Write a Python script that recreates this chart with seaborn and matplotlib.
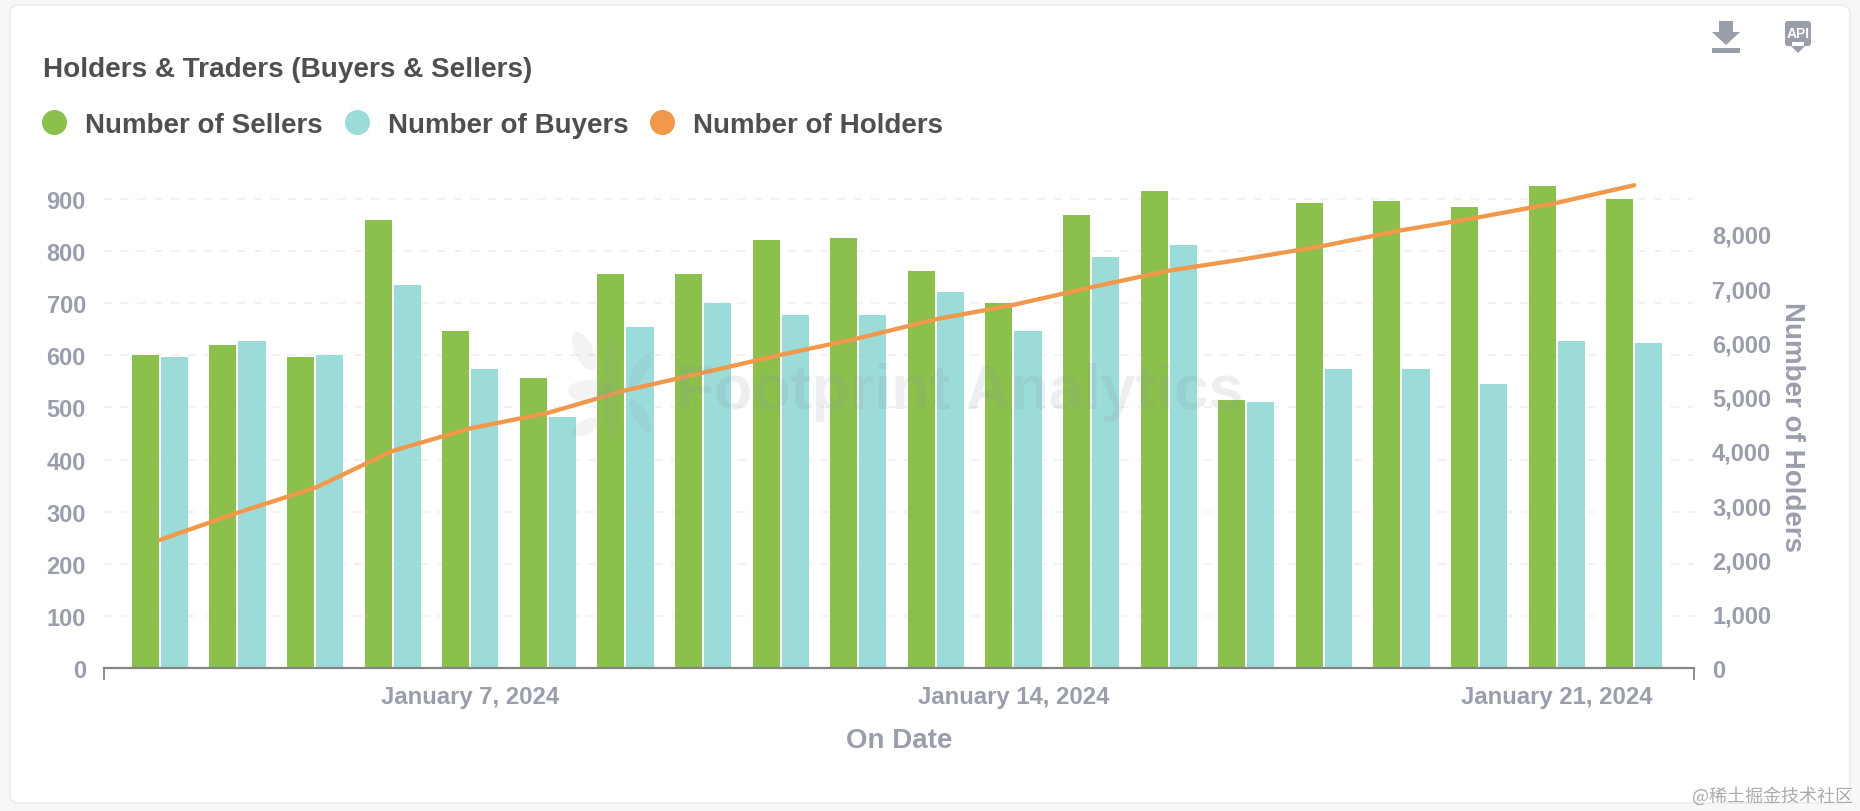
import numpy as np
import pandas as pd
import matplotlib
matplotlib.use('Agg')
import matplotlib.pyplot as plt
from matplotlib.lines import Line2D
from matplotlib.patches import FancyBboxPatch, Polygon, Rectangle, Ellipse
import seaborn as sns

dates = ['Jan 3', 'Jan 4', 'Jan 5', 'Jan 6', 'Jan 7', 'Jan 8', 'Jan 9', 'Jan 10', 'Jan 11', 'Jan 12',
         'Jan 13', 'Jan 14', 'Jan 15', 'Jan 16', 'Jan 17', 'Jan 18', 'Jan 19', 'Jan 20', 'Jan 21', 'Jan 22']
sellers = [600, 620, 596, 860, 647, 557, 757, 757, 822, 826, 761, 700, 869, 915, 515, 892, 896, 885, 925, 900]
buyers = [596, 627, 600, 735, 573, 481, 654, 700, 677, 677, 722, 646, 788, 811, 511, 573, 573, 546, 627, 623]
holders = [2360, 2860, 3320, 4000, 4415, 4700, 5115, 5440, 5770, 6075,
           6425, 6690, 7015, 7320, 7540, 7780, 8065, 8305, 8570, 8895]
tick_labels = {'Jan 7': 'January 7, 2024', 'Jan 14': 'January 14, 2024', 'Jan 21': 'January 21, 2024'}

GREEN = '#8bc04d'
CYAN = '#9bdcd9'
ORANGE = '#f1984b'
GREY = '#9a9eab'
DARK = '#4f4f51'
W, H = 1860, 812

sns.set_theme(style='white')
plt.rcParams['font.family'] = ['Liberation Sans', 'Noto Sans CJK SC']
plt.rcParams['font.weight'] = 'bold'

fig = plt.figure(figsize=(W / 100, H / 100), dpi=100, facecolor='#f6f7f9')

# page overlay in pixels: card, icons, watermark logo
bg = fig.add_axes([0, 0, 1, 1], zorder=0)
bg.set_xlim(0, W)
bg.set_ylim(H, 0)
bg.axis('off')
bg.add_patch(FancyBboxPatch((10, 6), 1840, 798, boxstyle='round,pad=0,rounding_size=9',
                            fc='white', ec='#eceef2', lw=1.5))
# download icon
bg.add_patch(Polygon([(1719, 22), (1733, 22), (1733, 33), (1740, 33), (1726, 46), (1712, 33), (1719, 33)],
                     fc=GREY, ec='none'))
bg.add_patch(Rectangle((1712, 49), 28, 4.5, fc=GREY, ec='none'))
# api icon
bg.add_patch(FancyBboxPatch((1785, 22), 26, 25, boxstyle='round,pad=0,rounding_size=3', fc=GREY, ec='none'))
bg.add_patch(Polygon([(1791, 47), (1805, 47), (1798, 54)], fc=GREY, ec='none'))
bg.add_patch(Rectangle((1792, 43), 12, 4, fc='white', ec='none'))
bg.text(1798, 34, 'API', color='white', fontsize=10, ha='center', va='center')

df = pd.DataFrame({'date': dates, 'Number of Sellers': sellers, 'Number of Buyers': buyers})
long_df = df.melt(id_vars='date', var_name='series', value_name='count')

x0, x1, y0, y1 = 104, 1694, 174, 669
ax = fig.add_axes([x0 / W, 1 - y1 / H, (x1 - x0) / W, (y1 - y0) / H], zorder=1)
ax.patch.set_alpha(0)
sns.barplot(data=long_df, x='date', y='count', hue='series', palette=[GREEN, CYAN],
            width=0.75, gap=0.07, saturation=1, legend=False, ax=ax, zorder=3, linewidth=0, edgecolor='none')
xlim = (-0.72, 19.77)
ax.set_xlim(*xlim)
ax.set_ylim(0, 950)
ax.set_yticks(range(0, 1000, 100))
ax.yaxis.grid(True, color='#eef0f2', ls=(0, (5, 5)), lw=1.2, zorder=0)
ax.set_axisbelow(True)
for s in ['top', 'left', 'right']:
    ax.spines[s].set_visible(False)
ax.spines['bottom'].set_color('#858585')
ax.spines['bottom'].set_linewidth(1.6)
ax.spines['bottom'].set_zorder(6)
ax.set_xticks([dates.index(d) for d in tick_labels])
ax.set_xticklabels(list(tick_labels.values()))
ax.set_xticks(list(xlim), minor=True)
ax.tick_params(axis='x', which='major', length=0, pad=12, labelsize=17.2, labelcolor=GREY)
ax.tick_params(axis='x', which='minor', length=8.5, width=1.3, color='#858585', direction='out', bottom=True)
ax.tick_params(axis='y', length=0, pad=13, labelsize=17, labelcolor=GREY)
ax.set_xlabel('On Date', fontsize=20, color=GREY, labelpad=14, fontweight='bold')
ax.set_ylabel('')

ax2 = ax.twinx()
sns.lineplot(x=np.arange(len(holders)), y=holders, color=ORANGE, lw=3.1, ax=ax2, zorder=5)
ax2.set_ylim(0, 9120)
ax2.set_yticks(range(0, 9000, 1000))
ax2.set_yticklabels([f'{v:,}' for v in range(0, 9000, 1000)])
ax2.tick_params(axis='y', length=0, pad=13, labelsize=17, labelcolor=GREY)
ax2.grid(False)
for s in ax2.spines.values():
    s.set_visible(False)
ax2.set_ylabel('Number of Holders', rotation=270, fontsize=20, color=GREY, labelpad=24, fontweight='bold', y=0.488)

# legend and title
handles = [Line2D([], [], ls='', marker='o', ms=17, color=c, label=l)
           for c, l in zip([GREEN, CYAN, ORANGE], ['Number of Sellers', 'Number of Buyers', 'Number of Holders'])]
fig.legend(handles=handles, ncol=3, frameon=False, loc='center left', bbox_to_anchor=(15 / W, 1 - 126 / H),
           prop={'size': 20, 'weight': 'bold'}, labelcolor=DARK, handlelength=1.0, handletextpad=0.62,
           columnspacing=0.72)
fig.text(43 / W, 1 - 70 / H, 'Holders & Traders (Buyers & Sellers)', fontsize=20.1, color=DARK, va='center')

# faint footprint watermark above the bars
top = fig.add_axes([0, 0, 1, 1], zorder=3)
top.set_xlim(0, W)
top.set_ylim(H, 0)
top.axis('off')
top.text(960, 393, 'Footprint Analytics', fontsize=45, color='#8a96a0', alpha=0.16, ha='center', va='center')
for cx, cy, w, h, ang in [(584, 352, 18, 42, -25), (612, 390, 16, 100, 0), (640, 372, 13, 38, 30),
                          (640, 416, 13, 38, -30), (590, 392, 44, 22, 0), (586, 428, 30, 14, -30)]:
    top.add_patch(Ellipse((cx, cy), w, h, angle=ang, fc='#8a96a0', ec='none', alpha=0.11))
top.text(1853, 796, '@稀土掘金技术社区', fontsize=13, color='#ababab', ha='right', va='center',
         fontweight='normal', family=['Noto Sans CJK SC', 'DejaVu Sans'])

fig.savefig('out.png', dpi=100, facecolor=fig.get_facecolor())
